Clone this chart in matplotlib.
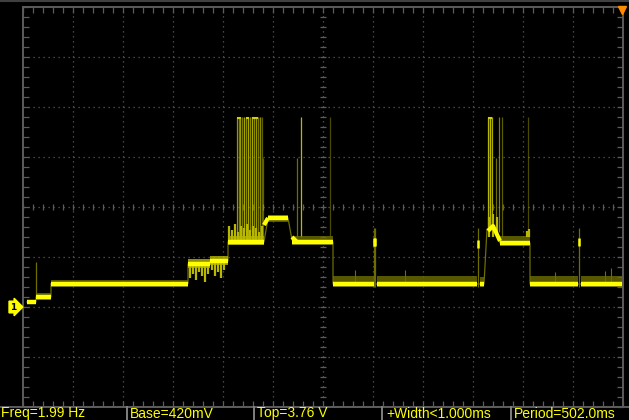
import matplotlib
matplotlib.use("Agg")
import matplotlib.pyplot as plt
import numpy as np
from matplotlib.ticker import MultipleLocator
from matplotlib.lines import Line2D

# scope settings: 100 ms/div, 1 V/div, channel 1 ground at 0 V
T_SPAN = 1200
V_MIN, V_MAX = -2.0, 6.0

# trace segments: start ms, end ms, level V, fuzz low V, fuzz high V
seg_t0 = [8, 26, 56, 330, 374, 410, 490, 538, 620, 708, 914, 954, 1014, 1116]
seg_t1 = [26, 56, 330, 374, 410, 482, 530, 620, 702, 908, 922, 1014, 1110, 1198]
seg_v = [0.10, 0.20, 0.47, 0.86, 0.92, 1.30, 1.78, 1.30, 0.46, 0.46, 0.46, 1.28, 0.46, 0.46]
seg_lo = [0.06, 0.14, 0.40, 0.78, 0.84, 1.24, 1.70, 1.24, 0.40, 0.40, 0.40, 1.22, 0.40, 0.40]
seg_hi = [0.14, 0.28, 0.54, 0.96, 1.02, 1.42, 1.84, 1.42, 0.62, 0.62, 0.60, 1.42, 0.62, 0.62]
seg_busy = [False, False, False, True, True, True, False, False, False, False, False, False, False, False]

# bright ramps / peaks
ramp_t = [[482, 490], [538, 548], [930, 940, 954]]
ramp_v = [[1.64, 1.78], [1.40, 1.30], [1.52, 1.62, 1.32]]

# thin trace incl. transitions
path_t = [8, 26, 26, 56, 56, 330, 330, 374, 374, 410, 410, 482, 490, 530, 538, 620, 620, 702, 708, 908, 914, 922, 928, 940, 954, 1014, 1014, 1198]
path_v = [0.10, 0.10, 0.20, 0.20, 0.47, 0.47, 0.86, 0.86, 0.92, 0.92, 1.30, 1.30, 1.78, 1.78, 1.34, 1.30, 0.46, 0.46, 0.46, 0.46, 0.46, 0.46, 1.56, 1.62, 1.28, 1.28, 0.46, 0.46]

# noise columns hanging below the first steps
hang_t = [334, 340, 346, 352, 358, 364, 370, 378, 384, 390, 396, 402]
hang_lo = [0.58, 0.66, 0.54, 0.70, 0.62, 0.50, 0.66, 0.74, 0.62, 0.70, 0.58, 0.74]
# noise columns rising above the burst level
rise_t = [412, 418, 424, 430, 436, 442, 448, 454, 460, 466, 472, 478, 932, 940, 948, 1008, 1012]
rise_hi = [1.62, 1.54, 1.66, 1.50, 1.62, 1.58, 1.66, 1.54, 1.62, 1.58, 1.50, 1.62, 1.80, 1.86, 1.80, 1.52, 1.56]

# persistence spikes: time ms, bottom V, top V
spike_t = [428, 432, 434, 438, 442, 446, 450, 454, 458, 462, 466, 470, 474, 478, 480, 548, 556, 614, 930, 934, 938, 946, 952, 958, 1010]
spike_lo = [1.3, 1.3, 1.3, 1.3, 1.3, 1.3, 1.3, 1.3, 1.3, 1.3, 1.3, 1.3, 1.3, 1.3, 1.4, 1.4, 1.4, 1.4, 1.6, 1.6, 1.6, 1.6, 1.5, 1.4, 1.4]
spike_hi = [3.8, 3.8, 3.8, 3.8, 3.8, 3.8, 3.8, 3.8, 3.8, 3.8, 3.8, 3.8, 3.8, 3.8, 2.98, 2.98, 3.8, 3.8, 3.8, 3.8, 3.8, 2.98, 3.8, 3.8, 3.8]
spike_alpha = [0.8, 0.6, 0.8, 0.6, 0.9, 0.7, 0.9, 0.7, 0.9, 0.7, 0.8, 0.6, 0.7, 0.5, 0.5, 0.6, 1.0, 0.4, 1.0, 1.0, 0.9, 0.6, 0.7, 0.5, 0.4]

# short glitches on the trace
glitch_t = [26, 702, 704, 910, 1112]
glitch_lo = [0.20, 0.40, 0.40, 0.40, 0.40]
glitch_hi = [0.90, 1.58, 1.58, 1.58, 1.58]
glitch_dot = [np.nan, 1.30, 1.30, 1.26, 1.30]

# small noise hairs on the low level
hair_t = [664, 764, 1064, 1164, 1176]
hair_hi = [0.74, 0.74, 0.70, 0.72, 0.78]

labels = ["Freq=1.99 Hz", "Base=420mV", "Top=3.76 V", "+Width<1.000ms", "Period=502.0ms"]
label_x = [0, 129, 256, 385, 513]
sep_x = [127, 254, 382, 511]

YEL = "#ffff00"
MID = "#b8b800"
DIM = "#6e6e00"
GRID = "#5c5c5c"

W, H = 629, 420
fig = plt.figure(figsize=(W / 100, H / 100), dpi=100, facecolor="black")
ax = fig.add_axes([23 / W, 13 / H, 600 / W, 400 / H], facecolor="black")
ax.set_xlim(0, T_SPAN)
ax.set_ylim(V_MIN, V_MAX)

# grid
for t in range(100, T_SPAN, 100):
    ax.axvline(t, color=GRID, lw=0.9, ls=(0, (1, 3)), zorder=1)
for v in np.arange(V_MIN + 1, V_MAX, 1):
    ax.axhline(v, color=GRID, lw=0.9, ls=(0, (1, 3)), zorder=1)

# center ticks
ct = np.arange(0, T_SPAN + 1, 20)
ax.plot(ct, np.full(len(ct), 2.0), ls="none", marker="|", ms=5, mew=0.9, color=GRID, zorder=1)
cv = np.arange(V_MIN, V_MAX + 0.01, 0.2)
ax.plot(np.full(len(cv), 600), cv, ls="none", marker="_", ms=5, mew=0.9, color=GRID, zorder=1)

# edge ticks
ax.xaxis.set_major_locator(MultipleLocator(100))
ax.xaxis.set_minor_locator(MultipleLocator(20))
ax.yaxis.set_major_locator(MultipleLocator(1))
ax.yaxis.set_minor_locator(MultipleLocator(0.2))
ax.tick_params(which="both", direction="in", top=True, right=True, length=4,
               width=0.9, color=GRID, labelbottom=False, labelleft=False)
for s in ax.spines.values():
    s.set_color(GRID)
    s.set_linewidth(1.4)

# persistence haze in the bursts
ax.fill_between([428, 478], 1.5, 3.8, color=DIM, alpha=0.2, lw=0, zorder=2)
ax.fill_between([930, 940], 1.6, 3.8, color=DIM, alpha=0.35, lw=0, zorder=2)

ax.vlines(spike_t, spike_lo, spike_hi, colors=[(0.72, 0.72, 0, a) for a in spike_alpha], lw=0.9, zorder=3)
ax.hlines([3.78] * 4, [428, 446, 458, 930], [436, 452, 470, 938], color="#d0d000", lw=1.5, zorder=3)
ax.vlines(glitch_t, glitch_lo, glitch_hi, colors=DIM, lw=0.9, zorder=3)
ax.vlines(glitch_t, np.array(glitch_dot) - 0.08, np.array(glitch_dot) + 0.08, colors=YEL, lw=1.8, zorder=4)
ax.vlines(hair_t, 0.5, hair_hi, colors=DIM, lw=0.8, zorder=3)

# trace fuzz
ax.plot(path_t, path_v, color=DIM, lw=0.9, zorder=3)
for t0, t1, lo, hi, busy in zip(seg_t0, seg_t1, seg_lo, seg_hi, seg_busy):
    ax.fill_between([t0, t1], lo, hi, color=MID if busy else DIM, alpha=0.8, lw=0, zorder=3)
ax.vlines(hang_t, hang_lo, [0.86 if t < 374 else 0.92 for t in hang_t], colors=MID, lw=1.6, zorder=4)
ax.vlines(rise_t, [1.30 if t < 900 else 1.40 for t in rise_t], rise_hi, colors=MID, lw=1.6, zorder=4)

# bright trace
ax.hlines(seg_v, seg_t0, seg_t1, color=YEL, lw=3.2, zorder=5)
for rt, rv in zip(ramp_t, ramp_v):
    ax.plot(rt, rv, color=YEL, lw=3.0, solid_capstyle="butt", zorder=5)

# trigger marker and channel marker
ax.plot([1198], [5.94], marker="v", ms=6, color="#ff8c00", clip_on=False, zorder=6)
ax.text(-19, 0, "1", color="black", fontsize=6.5, fontweight="bold", ha="center", va="center",
        bbox=dict(boxstyle="rarrow,pad=0.15", fc=YEL, ec=YEL), clip_on=False, zorder=6)

# frame lines and status bar
fig.add_artist(Line2D([0, 1], [1 - 0.5 / H, 1 - 0.5 / H], color="#404040", lw=1.5))
fig.add_artist(Line2D([0, 1], [13 / H, 13 / H], color=GRID, lw=1.4))
for x in sep_x:
    fig.add_artist(Line2D([x / W, x / W], [0, 13 / H], color="#808080", lw=1.4))
for x, s in zip(label_x, labels):
    fig.text((x + 1) / W, 6.5 / H, s, color=YEL, fontsize=10, family="Liberation Sans",
             ha="left", va="center")

fig.savefig("out.png", dpi=100, facecolor="black")
